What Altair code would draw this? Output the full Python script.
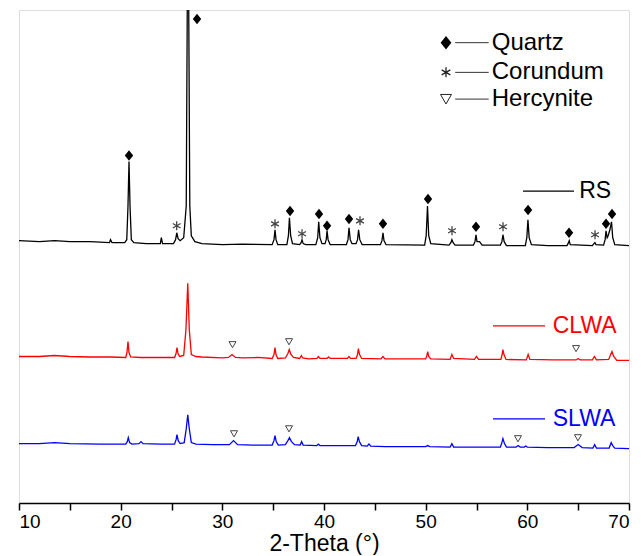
import altair as alt
import pandas as pd

FONT = "Liberation Sans"

# ---- XRD traces: (2-theta, offset intensity) ----
rs_points = [
    (10, 265), (12, 264), (13.5, 265), (15, 264), (17, 264), (18.9, 263), (19.0, 266), (19.15, 263),
    (20.4, 263), (20.6, 266), (20.72, 300), (20.82, 345), (20.92, 300), (21.05, 266), (21.3, 263),
    (22.5, 262), (23.9, 262), (24.0, 268), (24.12, 262), (25.2, 262), (25.4, 266), (25.52, 273),
    (25.65, 267), (25.85, 265), (26.2, 268), (26.45, 300), (26.62, 640), (26.8, 300), (26.95, 270),
    (27.3, 264), (28, 262), (30, 261), (32, 261.5), (34.9, 261), (35.08, 266), (35.18, 276),
    (35.28, 266), (35.45, 261), (36.35, 261), (36.5, 270), (36.6, 288), (36.72, 270), (36.9, 262),
    (37.6, 261), (37.75, 263), (37.84, 266), (37.95, 262), (38.2, 261), (39.2, 261), (39.38, 268),
    (39.48, 284), (39.6, 268), (39.8, 262), (40.1, 262), (40.22, 266), (40.3, 275), (40.4, 266),
    (40.6, 261), (42.2, 261), (42.36, 266), (42.46, 278), (42.58, 266), (42.75, 262), (43.15, 262),
    (43.3, 266), (43.4, 276), (43.52, 266), (43.75, 261), (45.55, 261), (45.7, 265), (45.8, 273),
    (45.9, 265), (46.1, 261), (49.9, 260.5), (50.05, 270), (50.18, 300), (50.3, 270), (50.5, 262),
    (52.3, 260.5), (52.48, 263), (52.58, 266), (52.7, 263), (52.9, 260.5), (54.7, 260.5),
    (54.85, 264), (54.95, 271), (55.05, 264), (55.3, 264), (55.55, 260.5), (57.35, 260.5),
    (57.5, 264), (57.6, 271), (57.72, 264), (57.95, 260), (59.8, 260), (59.95, 268), (60.06, 286),
    (60.18, 268), (60.4, 261), (62, 260), (63.9, 260), (64.05, 263), (64.12, 265), (64.22, 261),
    (66.4, 260), (66.55, 262), (66.65, 263), (66.75, 261), (67.5, 260.5), (67.65, 266),
    (67.74, 275), (67.85, 268), (67.95, 270), (68.12, 276), (68.28, 284), (68.4, 268), (68.6, 261),
    (70, 260),
]

clwa_points = [
    (10, 148), (12, 148), (13.5, 149), (15, 148), (17, 147.5), (19, 147.5), (20.5, 147),
    (20.62, 152), (20.72, 163), (20.82, 152), (20.98, 147.5), (22, 147), (24, 147), (25.3, 147),
    (25.45, 151), (25.54, 157), (25.64, 151), (25.8, 148), (26.2, 149), (26.42, 175), (26.6, 222),
    (26.75, 175), (26.95, 150), (27.4, 148), (28, 147.5), (30, 146.5), (30.6, 147), (30.95, 150),
    (31.3, 147), (32, 146.5), (33.5, 147), (34.9, 146), (35.08, 150), (35.18, 157), (35.28, 150),
    (35.45, 146), (36.2, 146.5), (36.45, 151), (36.58, 155), (36.75, 150), (37.0, 147),
    (37.6, 146), (37.78, 149), (37.9, 146.5), (38.5, 145.5), (39.3, 146), (39.45, 148),
    (39.6, 146), (40.3, 146), (40.45, 147.5), (40.6, 146), (42.3, 146), (42.45, 148), (42.6, 146),
    (43.15, 146), (43.3, 150), (43.38, 156), (43.5, 150), (43.7, 146), (45.6, 145.5), (45.8, 148),
    (46.0, 145.5), (48, 145.5), (50.0, 145.5), (50.12, 149), (50.2, 153), (50.3, 148),
    (50.5, 145.5), (52.4, 145), (52.58, 150), (52.75, 146), (54.8, 145), (55.0, 148), (55.2, 145),
    (57.4, 145), (57.52, 150), (57.6, 155), (57.7, 150), (57.9, 145), (59.9, 144.5), (60.08, 150),
    (60.25, 145), (62.5, 144.5), (64.8, 144.5), (65.0, 146), (65.2, 144.5), (66.4, 144.5),
    (66.6, 148), (66.8, 144.5), (68.0, 145), (68.2, 150), (68.32, 153), (68.5, 148), (68.8, 144),
    (70, 144),
]

slwa_points = [
    (10, 60), (12, 60), (13.5, 61), (15, 60), (18, 59.5), (20.5, 59.5), (20.65, 62), (20.75, 66),
    (20.88, 61), (21.1, 59.5), (21.8, 60), (22.0, 62), (22.2, 60), (24, 59.5), (25.3, 59.5),
    (25.45, 64), (25.54, 69), (25.66, 63), (25.85, 60), (26.25, 61), (26.45, 75), (26.6, 89),
    (26.75, 75), (26.95, 61), (27.4, 59.5), (29, 59), (30.7, 59), (31.1, 63), (31.5, 59), (33, 58.5),
    (34.9, 58.5), (35.08, 63), (35.18, 68), (35.3, 62), (35.5, 58.5), (36.2, 59), (36.45, 63),
    (36.6, 66), (36.8, 62), (37.1, 59), (37.65, 58.5), (37.8, 62), (37.95, 58.5), (39.3, 58),
    (39.45, 59.5), (39.6, 58), (43.1, 58), (43.27, 62), (43.36, 67), (43.48, 62), (43.7, 58),
    (44.25, 57.5), (44.42, 59.5), (44.6, 57.5), (46, 57), (50.0, 57), (50.2, 58), (50.4, 57),
    (52.4, 56.5), (52.58, 60), (52.75, 56.5), (55, 56.5), (57.35, 56.5), (57.5, 61), (57.6, 65),
    (57.75, 60), (57.95, 56.5), (58.9, 56.5), (59.1, 58), (59.3, 56.5), (59.7, 56.5),
    (59.85, 57.5), (60, 56.5), (62, 56), (64.6, 56), (65.0, 59), (65.4, 56), (66.45, 55.5),
    (66.62, 59), (66.8, 55.5), (68.05, 55.5), (68.25, 61), (68.4, 58), (68.6, 55.5), (70, 55),
]

# ---- phase markers ----
quartz_x = [27.51, 20.82, 36.66, 39.51, 40.30, 42.46, 45.80, 50.23, 54.95, 60.07, 64.10, 67.74, 68.33]
quartz_y = [489, 351, 295, 292, 280, 287, 282, 307, 279, 296, 273, 282, 292]
corundum_x = [25.51, 35.18, 37.84, 43.54, 52.59, 57.61, 66.66]
corundum_y = [280, 282, 272, 285, 275, 279, 271]
hercynite_x = [31.0, 36.56, 64.79, 31.15, 36.56, 59.08, 64.98]
hercynite_y = [160, 163, 156, 70, 75, 65, 66]

# ---- series labels ----
samples = ["RS", "CLWA", "SLWA"]
sample_colors = ["#000000", "#ff0000", "#0000ff"]
label_line_x1 = [59.57, 56.62, 56.62]
label_line_x2 = [64.59, 61.74, 61.74]
label_text_x = [65.1, 62.5, 62.5]
label_y = [315, 179, 85]

# ---- legend ----
legend_names = ["Quartz", "Corundum", "Hercynite"]
legend_y = [465, 435, 408]
legend_marker_x = 52.0
legend_line_x1 = 52.9
legend_line_x2 = 56.2
legend_text_x = 56.5

DIAMOND = "M0,-1L0.8,0L0,1L-0.8,0Z"
ASTERISK = "M0,-1L0,1M-0.87,-0.5L0.87,0.5M-0.87,0.5L0.87,-0.5"
TRIANGLE = "M-1,-0.85L1,-0.85L0,0.9Z"

rows = []
for name, pts in zip(samples, [rs_points, clwa_points, slwa_points]):
    for i, (x, y) in enumerate(pts):
        rows.append({"sample": name, "theta": x, "intensity": y, "idx": i})
traces = pd.DataFrame(rows)

xscale = alt.Scale(domain=[10, 70], nice=False, zero=False)
yscale = alt.Scale(domain=[0, 498], nice=False, zero=False)
cscale = alt.Scale(domain=samples, range=sample_colors)

xaxis = alt.Axis(
    values=list(range(10, 71, 5)),
    labelExpr="datum.value % 10 === 0 ? datum.label : ''",
    title="2-Theta (°)",
    titleFont=FONT, titleFontSize=23, titleFontWeight="normal", titleColor="black",
    titlePadding=1,
    labelFont=FONT, labelFontSize=19, labelColor="black", labelPadding=2,
    tickColor="black", tickWidth=1.5, tickSize=7,
    domainColor="black", domainWidth=1.5, grid=False,
)

X = alt.X("theta:Q", scale=xscale, axis=xaxis)
Y = alt.Y("intensity:Q", scale=yscale, axis=None)

lines = alt.Chart(traces).mark_line(clip=True, strokeWidth=1.3).encode(
    x=X, y=Y,
    color=alt.Color("sample:N", scale=cscale, legend=None),
    detail="sample:N",
    order="idx:Q",
)

q_df = pd.DataFrame({"theta": quartz_x, "intensity": quartz_y})
c_df = pd.DataFrame({"theta": corundum_x, "intensity": corundum_y})
h_df = pd.DataFrame({"theta": hercynite_x, "intensity": hercynite_y})

q_marks = alt.Chart(q_df).mark_point(shape=DIAMOND, filled=True, color="black", size=110, opacity=1).encode(
    x="theta:Q", y="intensity:Q")
c_marks = alt.Chart(c_df).mark_point(shape=ASTERISK, filled=False, color="#444444", strokeWidth=1.3,
                                     size=81, opacity=1).encode(x="theta:Q", y="intensity:Q")
h_marks = alt.Chart(h_df).mark_point(shape=TRIANGLE, filled=False, color="#444444", strokeWidth=1,
                                     size=49, opacity=1).encode(x="theta:Q", y="intensity:Q")

lab_df = pd.DataFrame({"sample": samples, "x1": label_line_x1, "x2": label_line_x2,
                       "tx": label_text_x, "y": label_y})
lab_lines = alt.Chart(lab_df).mark_rule(strokeWidth=1.3).encode(
    x="x1:Q", x2="x2:Q", y="y:Q", color=alt.Color("sample:N", scale=cscale, legend=None))
lab_text = alt.Chart(lab_df).mark_text(align="left", baseline="middle", font=FONT, fontSize=23).encode(
    x="tx:Q", y="y:Q", text="sample:N", color=alt.Color("sample:N", scale=cscale, legend=None))

leg_df = pd.DataFrame({"name": legend_names, "y": legend_y,
                       "mx": [legend_marker_x] * 3, "x1": [legend_line_x1] * 3,
                       "x2": [legend_line_x2] * 3, "tx": [legend_text_x] * 3})
leg_lines = alt.Chart(leg_df).mark_rule(strokeWidth=1, color="#333333").encode(
    x="x1:Q", x2="x2:Q", y="y:Q")
leg_text = alt.Chart(leg_df).mark_text(align="left", baseline="middle", font=FONT, fontSize=24,
                                       color="black").encode(x="tx:Q", y="y:Q", text="name:N")
leg_q = alt.Chart(leg_df.iloc[[0]]).mark_point(shape=DIAMOND, filled=True, color="black", size=180,
                                              opacity=1).encode(x="mx:Q", y="y:Q")
leg_c = alt.Chart(leg_df.iloc[[1]]).mark_point(shape=ASTERISK, filled=False, color="#222222",
                                              strokeWidth=1.3, size=100, opacity=1).encode(x="mx:Q", y="y:Q")
leg_h = alt.Chart(leg_df.iloc[[2]]).mark_point(shape=TRIANGLE, filled=False, color="#222222",
                                              strokeWidth=1, size=120, opacity=1).encode(x="mx:Q", y="y:Q")

chart = alt.layer(
    lines, q_marks, c_marks, h_marks, lab_lines, lab_text,
    leg_lines, leg_text, leg_q, leg_c, leg_h,
).properties(
    width=610, height=493,
    padding={"left": 10, "top": 2, "right": 2, "bottom": 0},
).configure_view(
    stroke="black", strokeWidth=1.5,
).configure(background="white")

chart.save("out.html", embed_options={"renderer": "svg", "actions": False})
